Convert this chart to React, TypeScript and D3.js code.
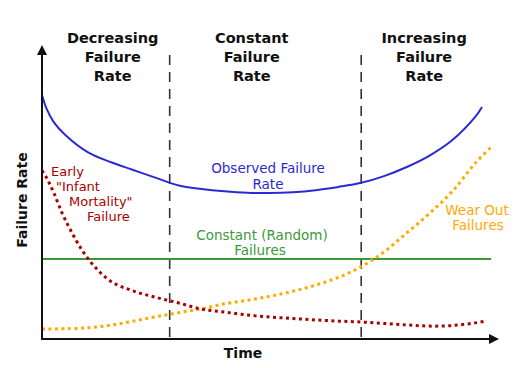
import React from 'react';
import * as d3 from 'd3';

// time in arbitrary units (0..100 across the x axis), rate in arbitrary units (0..100 up the y axis)
const time = [0, 1, 2.5, 5, 10, 15, 20, 25, 30, 35, 40, 45, 50, 55, 60, 65, 70, 75, 80, 85, 90, 95];

const observedTime = [...time, 96.5];
const observed = [83.3, 78.6, 74.2, 69.8, 63.8, 60.4, 57.7, 55, 52.4, 51.2, 50.4, 49.9, 49.8, 50.1, 50.8, 51.9, 53.3, 55.6, 58.7, 62.6, 67.9, 75.8, 79.2];

const earlyTime = [...time, 97];
const early = [57.5, 55, 50.2, 41, 27.6, 19.8, 16.4, 14.2, 12.3, 10.2, 9.2, 8.2, 7.5, 7, 6.5, 6.1, 5.8, 5.3, 4.8, 4.4, 4.6, 5.5, 6];

const randomTime = [0, 98.5];
const random = [27.3, 27.3];

const wearOutTime = [...time, 98.5];
const wearOut = [3.4, 3.42, 3.45, 3.5, 3.8, 4.7, 6.1, 7.6, 9, 10.3, 12, 13.2, 14.6, 16.3, 18.4, 21, 24.7, 29.7, 36.2, 42.9, 50.4, 60, 65.5];

const dividers = [28, 70];
const phaseTitles = [
  { t: 15.5, lines: ['Decreasing', 'Failure', 'Rate'] },
  { t: 46, lines: ['Constant', 'Failure', 'Rate'] },
  { t: 83.8, lines: ['Increasing', 'Failure', 'Rate'] },
];

const W = 518;
const H = 368;

const BLUE = '#2a2ad4';
const RED = '#aa0000';
const GREEN = '#3a9a3a';
const ORANGE = '#ffaa00';

const x = d3.scaleLinear().domain([0, 100]).range([42, 498]);
const y = d3.scaleLinear().domain([0, 100]).range([339, 46]);

const pathFor = (ts: number[], vs: number[]) =>
  d3.line<number>()
    .x((_, i) => x(ts[i]))
    .y(d => y(d))
    .curve(d3.curveCatmullRom.alpha(0.5))(vs) || '';

const font = '"DejaVu Sans", Verdana, sans-serif';
const labelSize = 13.5;

const App = () => {
  const x0 = x(0);
  const y0 = y(0);
  const xTip = x.range()[1];
  const yTip = y.range()[1];

  return (
    <svg width={W} height={H} style={{ position: 'absolute', left: 0, top: 0, background: '#fff' }}
      fontFamily={font}>
      {/* phase dividers */}
      {dividers.map(d => (
        <line key={d} x1={x(d)} x2={x(d)} y1={55} y2={y0} stroke="#333" strokeWidth={1.6}
          strokeDasharray="10,7" />
      ))}

      {/* phase titles */}
      {phaseTitles.map(p => (
        <text key={p.t} x={x(p.t)} textAnchor="middle" fontWeight="bold" fontSize={14.5} fill="#111">
          {p.lines.map((l, i) => (
            <tspan key={i} x={x(p.t)} y={43 + i * 19}>{l}</tspan>
          ))}
        </text>
      ))}

      {/* curves */}
      <path d={pathFor(randomTime, random)} fill="none" stroke={GREEN} strokeWidth={1.8} />
      <path d={pathFor(wearOutTime, wearOut)} fill="none" stroke={ORANGE} strokeWidth={3}
        strokeDasharray="3,3.5" />
      <path d={pathFor(earlyTime, early)} fill="none" stroke={RED} strokeWidth={3}
        strokeDasharray="3,3.5" />
      <path d={pathFor(observedTime, observed)} fill="none" stroke={BLUE} strokeWidth={2} />

      {/* axes */}
      <line x1={x0} x2={x0} y1={y0 + 1} y2={yTip + 8} stroke="#111" strokeWidth={2} />
      <polygon points={`${x0},${yTip - 1} ${x0 - 5},${yTip + 9} ${x0 + 5},${yTip + 9}`} fill="#111" />
      <line x1={x0 - 1} x2={xTip - 8} y1={y0} y2={y0} stroke="#111" strokeWidth={2} />
      <polygon points={`${xTip + 1},${y0} ${xTip - 9},${y0 - 5} ${xTip - 9},${y0 + 5}`} fill="#111" />

      <text x={243} y={358} textAnchor="middle" fontWeight="bold" fontSize={14} fill="#111">Time</text>
      <text transform="translate(27,200) rotate(-90)" textAnchor="middle" fontWeight="bold" fontSize={14}
        fill="#111">Failure Rate</text>

      {/* series labels */}
      <text textAnchor="middle" fontSize={labelSize} fill={BLUE}>
        <tspan x={268} y={173}>Observed Failure</tspan>
        <tspan x={268} y={189}>Rate</tspan>
      </text>
      <text fontSize={13} fill={RED}>
        <tspan x={51} y={176}>Early</tspan>
        <tspan x={56} y={191}>"Infant</tspan>
        <tspan x={69} y={206}>Mortality"</tspan>
        <tspan x={87} y={221}>Failure</tspan>
      </text>
      <text textAnchor="middle" fontSize={labelSize} fill={GREEN}>
        <tspan x={262} y={240}>Constant (Random)</tspan>
        <tspan x={260} y={255}>Failures</tspan>
      </text>
      <text textAnchor="middle" fontSize={labelSize} fill={ORANGE}>
        <tspan x={477} y={215}>Wear Out</tspan>
        <tspan x={478} y={230}>Failures</tspan>
      </text>
    </svg>
  );
};

export default App;
